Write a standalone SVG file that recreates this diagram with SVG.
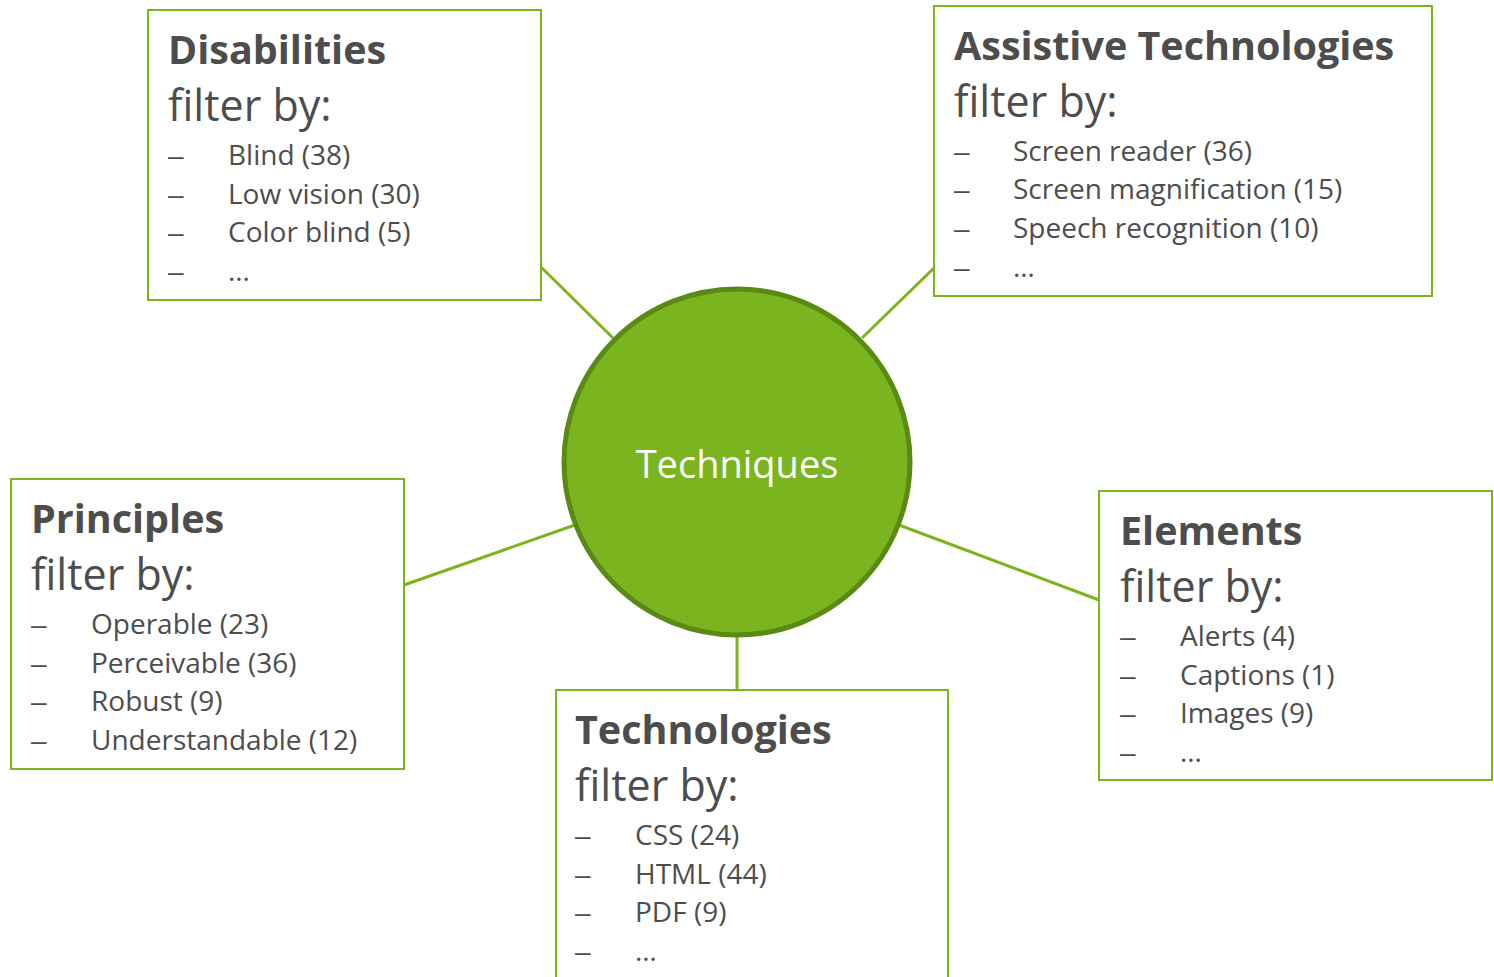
<svg xmlns="http://www.w3.org/2000/svg" width="1494" height="977" viewBox="0 0 1494 977">
<style>
.box{fill:#ffffff;stroke:#7ab51d;stroke-width:2}
.conn{stroke:#7ab51d;stroke-width:3;fill:none}
.t{font-family:"Open Sans","Liberation Sans",sans-serif;fill:#4d4d4d}
.d{font-family:"Liberation Sans",sans-serif;font-size:28px;fill:#4d4d4d}
.title{font-weight:bold;font-size:39.5px}
.filter{font-size:43px}
.item{font-size:28px}
.center{font-family:"Open Sans","Liberation Sans",sans-serif;font-size:38px;fill:#ffffff}
</style>
<rect width="1494" height="977" fill="#ffffff"/>
<g id="connectors">
<line class="conn" x1="541" y1="267" x2="613" y2="338"/>
<line class="conn" x1="934" y1="268" x2="862" y2="338"/>
<line class="conn" x1="404" y1="585" x2="575" y2="525"/>
<line class="conn" x1="899" y1="525" x2="1099" y2="600"/>
<line class="conn" x1="737" y1="637" x2="737" y2="690"/>
</g>
<g id="techniques">
<circle cx="737" cy="462" r="173" fill="#7ab41e" stroke="#5a8a14" stroke-width="5"/>
<text class="center" x="737" y="478" text-anchor="middle">Techniques</text>
</g>
<g id="disabilities">
<rect class="box" x="148" y="10" width="393" height="290"/>
<text class="t title" x="168" y="64">Disabilities</text>
<text class="t filter" x="168" y="121">filter by:</text>
<text class="d" x="168" y="165">–</text><text class="t item" x="228" y="165">Blind (38)</text>
<text class="d" x="168" y="204">–</text><text class="t item" x="228" y="204">Low vision (30)</text>
<text class="d" x="168" y="242">–</text><text class="t item" x="228" y="242">Color blind (5)</text>
<text class="d" x="168" y="281">–</text><text class="t item" x="228" y="281">…</text>
</g>
<g id="assistive-technologies">
<rect class="box" x="934" y="6" width="498" height="290"/>
<text class="t title" x="954" y="60">Assistive Technologies</text>
<text class="t filter" x="954" y="117">filter by:</text>
<text class="d" x="954" y="161">–</text><text class="t item" x="1013" y="161">Screen reader (36)</text>
<text class="d" x="954" y="199">–</text><text class="t item" x="1013" y="199">Screen magnification (15)</text>
<text class="d" x="954" y="238">–</text><text class="t item" x="1013" y="238">Speech recognition (10)</text>
<text class="d" x="954" y="277">–</text><text class="t item" x="1013" y="277">…</text>
</g>
<g id="principles">
<rect class="box" x="11" y="479" width="393" height="290"/>
<text class="t title" x="31" y="533">Principles</text>
<text class="t filter" x="31" y="590">filter by:</text>
<text class="d" x="31" y="634">–</text><text class="t item" x="91" y="634">Operable (23)</text>
<text class="d" x="31" y="673">–</text><text class="t item" x="91" y="673">Perceivable (36)</text>
<text class="d" x="31" y="711">–</text><text class="t item" x="91" y="711">Robust (9)</text>
<text class="d" x="31" y="750">–</text><text class="t item" x="91" y="750">Understandable (12)</text>
</g>
<g id="elements">
<rect class="box" x="1099" y="491" width="393" height="289"/>
<text class="t title" x="1120" y="545">Elements</text>
<text class="t filter" x="1120" y="602">filter by:</text>
<text class="d" x="1120" y="646">–</text><text class="t item" x="1180" y="646">Alerts (4)</text>
<text class="d" x="1120" y="685">–</text><text class="t item" x="1180" y="685">Captions (1)</text>
<text class="d" x="1120" y="723">–</text><text class="t item" x="1180" y="723">Images (9)</text>
<text class="d" x="1120" y="762">–</text><text class="t item" x="1180" y="762">…</text>
</g>
<g id="technologies">
<rect class="box" x="556" y="690" width="392" height="300"/>
<text class="t title" x="575" y="744">Technologies</text>
<text class="t filter" x="575" y="801">filter by:</text>
<text class="d" x="575" y="845">–</text><text class="t item" x="635" y="845">CSS (24)</text>
<text class="d" x="575" y="884">–</text><text class="t item" x="635" y="884">HTML (44)</text>
<text class="d" x="575" y="922">–</text><text class="t item" x="635" y="922">PDF (9)</text>
<text class="d" x="575" y="961">–</text><text class="t item" x="635" y="961">…</text>
</g>
</svg>
